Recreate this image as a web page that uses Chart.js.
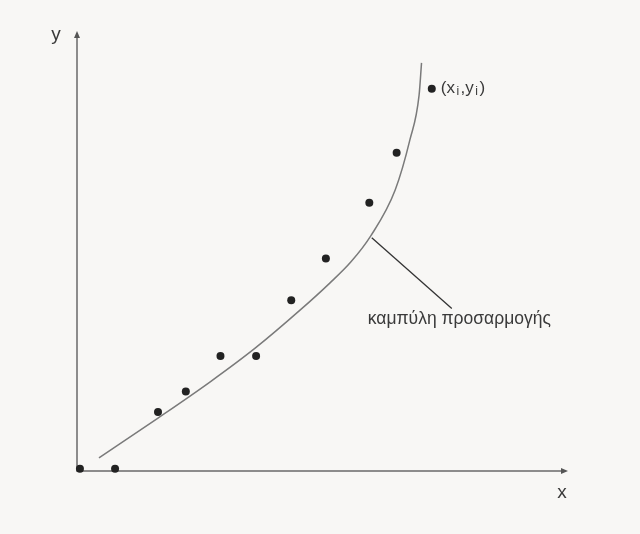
<!DOCTYPE html>
<html>
<head>
<meta charset="utf-8">
<script src="https://cdn.jsdelivr.net/npm/chart.js@4/dist/chart.umd.min.js"></script>
<style>
  html, body { margin: 0; padding: 0; background: #f8f7f5; }
  #wrap { width: 640px; height: 534px; }
</style>
</head>
<body>
<div id="wrap"><canvas id="fit" width="640" height="534"></canvas></div>
<script>
// measured points (xi, yi), axis units 0..100
const pointX = [0.6, 7.8, 16.6, 22.3, 29.4, 36.7, 43.9, 51.0, 59.9, 65.5, 72.7];
const pointY = [0.5, 0.5, 13.5, 18.2, 26.3, 26.3, 39.1, 48.6, 61.4, 72.8, 87.5];

// fitted curve
const curveX = [4.5, 16.6, 27.3, 36.5, 45.7, 51.8, 56.1, 60.2, 65.2, 68.2, 70.1, 70.6];
const curveY = [3.0, 12.1, 20.4, 28.1, 36.8, 43.0, 47.8, 53.8, 64.3, 75.7, 86.0, 93.4];

// leader line from the curve to its label
const leaderX = [60.4, 76.8];
const leaderY = [53.4, 37.2];

const axisNames = ['x', 'y'];
const curveLabel = 'καμπύλη προσαρμογής';
const pointLabel = ['(x', 'i', ',y', 'i', ')'];

const toXY = (xs, ys) => xs.map((x, i) => ({ x: x, y: ys[i] }));

// axes with arrow heads + text annotations
const sketch = {
  id: 'sketch',
  beforeDatasetsDraw(chart) {
    const { ctx, scales: { x, y } } = chart;
    const x0 = x.getPixelForValue(0), x1 = x.getPixelForValue(100);
    const y0 = y.getPixelForValue(0), y1 = y.getPixelForValue(100);
    ctx.save();
    ctx.strokeStyle = '#6a6a6a';
    ctx.fillStyle = '#555';
    ctx.lineWidth = 1.5;
    ctx.beginPath();
    ctx.moveTo(x0, y1);
    ctx.lineTo(x0, y0);
    ctx.lineTo(x1, y0);
    ctx.stroke();
    // arrow heads
    ctx.beginPath();
    ctx.moveTo(x0, y1 - 3);
    ctx.lineTo(x0 - 3, y1 + 4);
    ctx.lineTo(x0 + 3, y1 + 4);
    ctx.closePath();
    ctx.fill();
    ctx.beginPath();
    ctx.moveTo(x1 + 3, y0);
    ctx.lineTo(x1 - 4, y0 - 3);
    ctx.lineTo(x1 - 4, y0 + 3);
    ctx.closePath();
    ctx.fill();
    // leader line
    ctx.strokeStyle = '#333';
    ctx.lineWidth = 1.3;
    ctx.beginPath();
    ctx.moveTo(x.getPixelForValue(leaderX[0]), y.getPixelForValue(leaderY[0]));
    ctx.lineTo(x.getPixelForValue(leaderX[1]), y.getPixelForValue(leaderY[1]));
    ctx.stroke();
    ctx.restore();
  },
  afterDraw(chart) {
    const { ctx, scales: { x, y } } = chart;
    const x0 = x.getPixelForValue(0), x1 = x.getPixelForValue(100);
    const y0 = y.getPixelForValue(0), y1 = y.getPixelForValue(100);
    ctx.save();
    ctx.fillStyle = '#3a3a3a';
    ctx.textBaseline = 'middle';
    ctx.textAlign = 'center';
    ctx.font = '19px "Liberation Sans", Arial, sans-serif';
    ctx.fillText(axisNames[1], x0 - 21, y1 + 1);
    ctx.fillText(axisNames[0], x1 - 3, y0 + 22);

    ctx.textAlign = 'left';
    ctx.font = '17.5px "Liberation Sans", Arial, sans-serif';
    ctx.fillText(curveLabel, x.getPixelForValue(leaderX[1]) - 84, y.getPixelForValue(leaderY[1]) + 11);

    // (xi, yi) with subscripts
    let px = x.getPixelForValue(pointX[pointX.length - 1]) + 9;
    const py = y.getPixelForValue(pointY[pointY.length - 1]);
    pointLabel.forEach((s, i) => {
      const sub = i === 1 || i === 3;
      ctx.font = (sub ? '12px' : '17px') + ' "Liberation Sans", Arial, sans-serif';
      ctx.fillText(s, px, sub ? py + 3 : py);
      px += ctx.measureText(s).width + 1.5;
    });
    ctx.restore();
  }
};

new Chart(document.getElementById('fit'), {
  type: 'scatter',
  data: {
    datasets: [
      {
        label: 'curve',
        data: toXY(curveX, curveY),
        showLine: true,
        borderColor: '#7a7a7a',
        borderWidth: 1.5,
        pointRadius: 0,
        cubicInterpolationMode: 'monotone',
        clip: false
      },
      {
        label: 'points',
        data: toXY(pointX, pointY),
        showLine: false,
        pointRadius: 4,
        pointBackgroundColor: '#222',
        pointBorderColor: '#222',
        borderWidth: 0,
        clip: false
      }
    ]
  },
  options: {
    responsive: false,
    animation: false,
    layout: { padding: { left: 77, right: 75, top: 34, bottom: 63 } },
    scales: {
      x: { type: 'linear', min: 0, max: 100, display: false },
      y: { type: 'linear', min: 0, max: 100, display: false }
    },
    plugins: {
      legend: { display: false },
      tooltip: { enabled: false }
    }
  },
  plugins: [sketch]
});
</script>
</body>
</html>
